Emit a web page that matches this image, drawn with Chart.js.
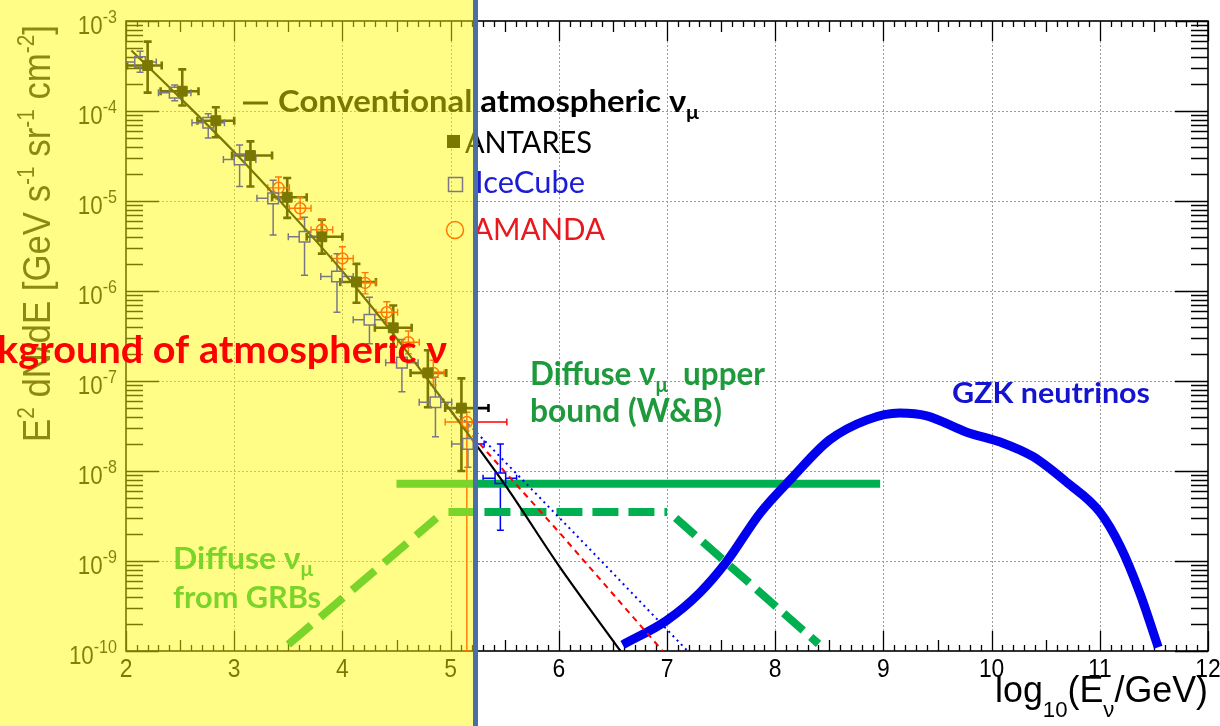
<!DOCTYPE html>
<html>
<head>
<meta charset="utf-8">
<script src="https://cdn.jsdelivr.net/npm/chart.js@4.4.1/dist/chart.umd.min.js"></script>
<style>
  html, body { margin: 0; padding: 0; background: #fff; }
  canvas { display: block; }
</style>
</head>
<body>
<canvas id="chart" width="1220" height="726"></canvas>
<script>
// axis ticks (log10 E on x, decades of the flux on y)
const xTicks = [2, 3, 4, 5, 6, 7, 8, 9, 10, 11, 12];
const yDecades = [-10, -9, -8, -7, -6, -5, -4, -3];

// ANTARES unfolded spectrum
const antaresX = [2.20, 2.52, 2.83, 3.15, 3.49, 3.81, 4.13, 4.47, 4.79, 5.10];
const antaresY = [3.2e-4, 1.66e-4, 7.8e-5, 3.2e-5, 1.1e-5, 4.0e-6, 1.26e-6, 3.9e-7, 1.23e-7, 5.0e-8];
const antaresYLow = [1.6e-4, 1.15e-4, 5.1e-5, 1.45e-5, 6.5e-6, 2.6e-6, 7.4e-7, 2.4e-7, 5.1e-8, 1.0e-8];
const antaresYHigh = [5.9e-4, 2.9e-4, 1.1e-4, 4.6e-5, 1.8e-5, 6.2e-6, 2.0e-6, 6.9e-7, 2.2e-7, 1.07e-7];
const antaresXLow = [2.01, 2.32, 2.66, 2.98, 3.35, 3.67, 3.98, 4.30, 4.63, 4.95];
const antaresXHigh = [2.33, 2.67, 3.00, 3.35, 3.67, 4.00, 4.31, 4.64, 4.96, 5.35];

// IceCube
const icecubeX = [2.13, 2.45, 2.76, 3.05, 3.36, 3.65, 3.95, 4.25, 4.55, 4.86, 5.16, 5.46];
const icecubeY = [3.5e-4, 1.6e-4, 7.4e-5, 2.9e-5, 1.07e-5, 4.0e-6, 1.45e-6, 4.8e-7, 1.6e-7, 5.8e-8, 2.0e-8, 8.3e-9];
const icecubeYLow = [2.7e-4, 1.3e-4, 5.0e-5, 1.45e-5, 4.2e-6, 1.5e-6, 5.8e-7, 2.6e-7, 7.6e-8, 2.4e-8, 1.1e-8, 2.2e-9];
const icecubeYHigh = [4.6e-4, 1.95e-4, 9.3e-5, 4.2e-5, 1.7e-5, 6.6e-6, 2.6e-6, 8.5e-7, 2.9e-7, 1.1e-7, 3.5e-8, 2.0e-8];
const icecubeXLow = [1.99, 2.30, 2.61, 2.90, 3.21, 3.50, 3.80, 4.10, 4.40, 4.71, 5.01, 5.30];
const icecubeXHigh = [2.28, 2.60, 2.91, 3.20, 3.51, 3.80, 4.10, 4.40, 4.70, 5.01, 5.31, 5.61];

// AMANDA
const amandaX = [3.41, 3.61, 3.81, 4.00, 4.21, 4.41, 4.61, 4.84, 5.15];
const amandaY = [1.4e-5, 8.3e-6, 4.8e-6, 2.3e-6, 1.23e-6, 5.8e-7, 2.7e-7, 1.23e-7, 3.5e-8];
const amandaYLow = [1.05e-5, 6.3e-6, 3.6e-6, 1.75e-6, 9.3e-7, 4.4e-7, 2.0e-7, 9.0e-8, 1.0e-10];
const amandaYHigh = [1.85e-5, 1.1e-5, 6.3e-6, 3.1e-6, 1.6e-6, 7.6e-7, 3.6e-7, 1.7e-7, 4.5e-8];
const amandaXLow = [3.31, 3.51, 3.71, 3.90, 4.11, 4.31, 4.51, 4.74, 4.95];
const amandaXHigh = [3.51, 3.71, 3.91, 4.10, 4.31, 4.51, 4.71, 4.94, 5.52];

// conventional atmospheric nu_mu
const convX = [2.05, 2.5, 3.0, 3.5, 4.0, 4.5, 5.0, 5.5, 6.0, 6.57];
const convY = [4.7e-4, 1.4e-4, 3.5e-5, 7.9e-6, 1.66e-6, 3.0e-7, 4.7e-8, 7.1e-9, 8.9e-10, 1.0e-10];
const redX = [5.0, 5.27, 6.01, 6.96];
const redY = [4.7e-8, 2.0e-8, 2.04e-9, 1.0e-10];
const blueX = [4.85, 5.25, 6.32, 7.19];
const blueY = [7.9e-8, 2.6e-8, 1.23e-9, 1.0e-10];

// Waxman-Bahcall bound and GRB flux
const wbX = [4.5, 8.97];
const wbY = [7.2e-9, 7.2e-9];
const wbDashX = [4.98, 7.0, 7.04, 7.08, 8.4];
const wbDashY = [3.5e-9, 3.5e-9, null, 3.0e-9, 1.2e-10];
const grbX = [3.5, 4.87];
const grbY = [1.18e-10, 3.0e-9];

// GZK neutrinos
const gzkX = [6.59, 7.0, 7.3, 7.55, 7.86, 8.16, 8.5, 8.85, 9.15, 9.4, 9.77, 10.08, 10.38, 10.7, 11.0, 11.19, 11.37, 11.54];
const gzkY = [1.17e-10, 2.2e-10, 4.4e-10, 9.8e-10, 3.4e-9, 8.5e-9, 2.2e-8, 3.7e-8, 4.4e-8, 4.1e-8, 2.7e-8, 2.1e-8, 1.45e-8, 7.4e-9, 3.5e-9, 1.45e-9, 4.4e-10, 1.1e-10];

const pts = (xs, ys) => xs.map((x, i) => ({x: x, y: ys[i]}));

const CAL = 'Lato, "Open Sans", sans-serif';
const HEL = '"Liberation Sans", Arial, sans-serif';

// text with sub/superscript parts, optionally stretched to a width
function drawText(ctx, parts, x, y, o) {
  const wt = o.weight || 'normal';
  const fam = o.family || CAL;
  const small = o.size * (o.small || 0.65);
  let w = 0;
  const items = parts.map(p => {
    const t = Array.isArray(p) ? p[0] : p;
    const m = Array.isArray(p) ? p[1] : '';
    const s = m ? small : o.size;
    ctx.font = wt + ' ' + s + 'px ' + fam;
    const it = {t: t, m: m, s: s, x: w};
    w += ctx.measureText(t).width;
    return it;
  });
  const sx = o.width ? o.width / w : (o.sx || 1);
  const W = w * sx;
  const x0 = o.align === 'right' ? x - W : o.align === 'center' ? x - W / 2 : x;
  ctx.save();
  ctx.translate(x0, y);
  ctx.scale(sx, 1);
  ctx.fillStyle = o.color || '#000';
  ctx.textAlign = 'left';
  ctx.textBaseline = 'alphabetic';
  items.forEach(it => {
    ctx.font = wt + ' ' + it.s + 'px ' + fam;
    let dy = 0;
    if (it.m === 'sup') dy = -o.size * (o.supDy || 0.42);
    if (it.m === 'sub') dy = o.size * (o.subDy || 0.2);
    ctx.fillText(it.t, it.x, dy);
  });
  ctx.restore();
}

function errorBars(ctx, chart, ds) {
  const xs = chart.scales.x, ys = chart.scales.y;
  const a = chart.chartArea;
  ctx.save();
  ctx.beginPath();
  ctx.rect(a.left, a.top, a.right - a.left, a.bottom - a.top);
  ctx.clip();
  ctx.strokeStyle = ds.errColor;
  ctx.lineWidth = ds.errWidth;
  const g = ds.errGap || 0, c = ds.errCap;
  ds.data.forEach((p, i) => {
    const px = xs.getPixelForValue(p.x), py = ys.getPixelForValue(p.y);
    const x0 = xs.getPixelForValue(ds.errX[0][i]), x1 = xs.getPixelForValue(ds.errX[1][i]);
    const y0 = ys.getPixelForValue(ds.errY[0][i]), y1 = ys.getPixelForValue(ds.errY[1][i]);
    ctx.beginPath();
    ctx.moveTo(x0, py); ctx.lineTo(px - g, py);
    ctx.moveTo(px + g, py); ctx.lineTo(x1, py);
    ctx.moveTo(px, y0); ctx.lineTo(px, py + g);
    ctx.moveTo(px, py - g); ctx.lineTo(px, y1);
    ctx.moveTo(x0, py - c); ctx.lineTo(x0, py + c);
    ctx.moveTo(x1, py - c); ctx.lineTo(x1, py + c);
    ctx.moveTo(px - c, y0); ctx.lineTo(px + c, y0);
    ctx.moveTo(px - c, y1); ctx.lineTo(px + c, y1);
    ctx.stroke();
  });
  ctx.restore();
}

const rootStyle = {
  id: 'rootStyle',
  beforeDatasetsDraw(chart) {
    const ctx = chart.ctx, a = chart.chartArea;
    const xs = chart.scales.x, ys = chart.scales.y;
    ctx.save();
    // dotted grid
    ctx.strokeStyle = '#9a9a9a';
    ctx.lineWidth = 1;
    ctx.setLineDash([2, 2]);
    ctx.beginPath();
    xTicks.slice(1, -1).forEach(v => {
      const px = Math.round(xs.getPixelForValue(v)) + 0.5;
      ctx.moveTo(px, a.top); ctx.lineTo(px, a.bottom);
    });
    yDecades.slice(1, -1).forEach(e => {
      const py = Math.round(ys.getPixelForValue(Math.pow(10, e))) + 0.5;
      ctx.moveTo(a.left, py); ctx.lineTo(a.right, py);
    });
    ctx.stroke();
    ctx.setLineDash([]);

    // ticks inside the frame
    ctx.strokeStyle = '#000';
    ctx.lineWidth = 1.3;
    ctx.beginPath();
    for (let i = xTicks[0] * 10; i <= xTicks[xTicks.length - 1] * 10; i++) {
      const px = Math.round(xs.getPixelForValue(i / 10)) + 0.5;
      const len = i % 10 === 0 ? 20 : i % 5 === 0 ? 11 : 6;
      ctx.moveTo(px, a.bottom); ctx.lineTo(px, a.bottom - len);
      ctx.moveTo(px, a.top); ctx.lineTo(px, a.top + len);
    }
    yDecades.forEach(e => {
      for (let m = 1; m <= 9; m++) {
        if (e === yDecades[yDecades.length - 1] && m > 1) break;
        const py = Math.round(ys.getPixelForValue(m * Math.pow(10, e))) + 0.5;
        const len = m === 1 ? 33 : 17;
        ctx.moveTo(a.left, py); ctx.lineTo(a.left + len, py);
        ctx.moveTo(a.right, py); ctx.lineTo(a.right - len, py);
      }
    });
    ctx.stroke();
    ctx.lineWidth = 1.6;
    ctx.strokeRect(a.left, a.top, a.right - a.left, a.bottom - a.top);

    // tick labels
    xTicks.forEach(v => {
      drawText(ctx, [String(v)], xs.getPixelForValue(v), a.bottom + 26,
        {size: 26, family: HEL, sx: 0.88, align: 'center', color: '#000'});
    });
    yDecades.forEach(e => {
      const py = ys.getPixelForValue(Math.pow(10, e));
      drawText(ctx, ['10', [String(e), 'sup']], a.left - 9, py + 13,
        {size: 26, family: HEL, sx: 0.86, align: 'right', color: '#111', small: 0.72, supDy: 0.44});
    });

    // axis titles
    drawText(ctx, ['log', ['10', 'sub'], '(E', ['\u03bd', 'sub'], '/GeV)'], 995, 702,
      {size: 36, family: HEL, width: 213, subDy: 0.42, small: 0.62});
    ctx.save();
    ctx.translate(50, 442);
    ctx.rotate(-Math.PI / 2);
    drawText(ctx, ['E', ['2', 'sup'], ' dN/dE [GeV s', ['-1', 'sup'], ' sr', ['-1', 'sup'], ' cm', ['-2', 'sup'], ']'], 0, 0,
      {size: 39, family: HEL, width: 417, color: '#222', small: 0.6});
    ctx.restore();

    // error bars under the markers
    chart.data.datasets.forEach(ds => { if (ds.errY) errorBars(ctx, chart, ds); });
    ctx.restore();
  },
  afterDatasetsDraw(chart) {
    const ctx = chart.ctx;
    ctx.save();
    // legend
    ctx.strokeStyle = '#000';
    ctx.lineWidth = 3;
    ctx.beginPath(); ctx.moveTo(243, 103); ctx.lineTo(268, 103); ctx.stroke();
    drawText(ctx, ['Conventional atmospheric \u03bd', ['\u03bc', 'sub']], 278, 112,
      {size: 30, weight: 'bold', width: 421, subDy: 0.22});
    ctx.fillStyle = '#000';
    ctx.fillRect(447, 135, 13, 13);
    drawText(ctx, ['ANTARES'], 465, 153, {size: 30, width: 127});
    ctx.strokeStyle = '#0000ff';
    ctx.lineWidth = 1.5;
    ctx.strokeRect(448.5, 177.5, 14, 14);
    drawText(ctx, ['IceCube'], 475, 193, {size: 30, width: 110, color: '#1c1cd4'});
    ctx.strokeStyle = '#ff0000';
    ctx.beginPath(); ctx.arc(455, 230, 8.5, 0, Math.PI * 2); ctx.stroke();
    drawText(ctx, ['AMANDA'], 473, 240, {size: 30, width: 132, color: '#e8191e'});

    // annotations
    drawText(ctx, ['Diffuse \u03bd', ['\u03bc', 'sub'], '  upper'], 530, 385,
      {size: 33, weight: 'bold', width: 235, color: '#1e9a3c', subDy: 0.22});
    drawText(ctx, ['bound (W&B)'], 530, 422, {size: 33, weight: 'bold', width: 192, color: '#1e9a3c'});
    drawText(ctx, ['GZK neutrinos'], 952, 403, {size: 29, weight: 'bold', width: 198, color: '#1414d0'});
    drawText(ctx, ['Diffuse \u03bd', ['\u03bc', 'sub']], 173, 569,
      {size: 31, weight: 'bold', width: 140, color: '#00b050', subDy: 0.22});
    drawText(ctx, ['from GRBs'], 173, 608, {size: 31, weight: 'bold', width: 148, color: '#00b050'});
    ctx.restore();
  },
  afterDraw(chart) {
    const ctx = chart.ctx;
    ctx.save();
    ctx.fillStyle = 'rgba(255, 250, 0, 0.48)';
    ctx.fillRect(0, 0, 473, chart.height);
    ctx.fillStyle = '#4a6fa6';
    ctx.fillRect(473, 0, 5, chart.height);
    ctx.font = 'bold 38px ' + CAL;
    const wk = ctx.measureText('kground of atmospheric \u03bd').width;
    drawText(ctx, ['Background of atmospheric \u03bd'], 447, 363,
      {size: 38, weight: 'bold', sx: 450 / wk, align: 'right', color: '#ff0000'});
    ctx.restore();
  }
};

const lineDs = (label, xs, ys, color, width, dash, extra) => Object.assign({
  label: label,
  data: pts(xs, ys),
  showLine: true,
  borderColor: color,
  backgroundColor: color,
  borderWidth: width,
  borderDash: dash,
  borderCapStyle: 'butt',
  pointRadius: 0,
  spanGaps: false
}, extra || {});

new Chart(document.getElementById('chart'), {
  type: 'scatter',
  data: {
    datasets: [
      {
        label: 'ANTARES', data: pts(antaresX, antaresY),
        pointStyle: 'rect', pointRadius: 7, backgroundColor: '#000', borderColor: '#000', borderWidth: 1,
        errX: [antaresXLow, antaresXHigh], errY: [antaresYLow, antaresYHigh],
        errColor: '#000', errWidth: 2.6, errCap: 4
      },
      {
        label: 'IceCube', data: pts(icecubeX, icecubeY),
        pointStyle: 'rect', pointRadius: 7.5, backgroundColor: 'rgba(0,0,0,0)', borderColor: '#0000ff', borderWidth: 1.5,
        errX: [icecubeXLow, icecubeXHigh], errY: [icecubeYLow, icecubeYHigh],
        errColor: '#0000ff', errWidth: 1.5, errCap: 3.5, errGap: 5.3
      },
      {
        label: 'AMANDA', data: pts(amandaX, amandaY),
        pointStyle: 'circle', pointRadius: 5.5, backgroundColor: 'rgba(0,0,0,0)', borderColor: '#ff0000', borderWidth: 1.5,
        errX: [amandaXLow, amandaXHigh], errY: [amandaYLow, amandaYHigh],
        errColor: '#ff0000', errWidth: 1.4, errCap: 3.5
      },
      lineDs('Conventional atmospheric', convX, convY, '#000', 2.2, [], {cubicInterpolationMode: 'monotone'}),
      lineDs('Prompt (red)', redX, redY, '#ff0000', 2, [6, 5]),
      lineDs('Prompt (blue)', blueX, blueY, '#0000ff', 2, [2, 4]),
      lineDs('W&B dashed', wbDashX, wbDashY, '#00b050', 8, [26, 10]),
      lineDs('GRB', grbX, grbY, '#00b050', 8, [30, 12]),
      lineDs('GZK', gzkX, gzkY, '#0000ee', 9, [], {cubicInterpolationMode: 'monotone'}),
      lineDs('W&B bound', wbX, wbY, '#00b050', 8, [])
    ]
  },
  options: {
    responsive: false,
    animation: false,
    events: [],
    layout: {padding: {left: 126, right: 12, top: 21, bottom: 75}},
    plugins: {legend: {display: false}, tooltip: {enabled: false}},
    scales: {
      x: {type: 'linear', min: 2, max: 12, display: false},
      y: {type: 'logarithmic', min: 1e-10, max: 1e-3, display: false}
    }
  },
  plugins: [rootStyle]
});
</script>
</body>
</html>
